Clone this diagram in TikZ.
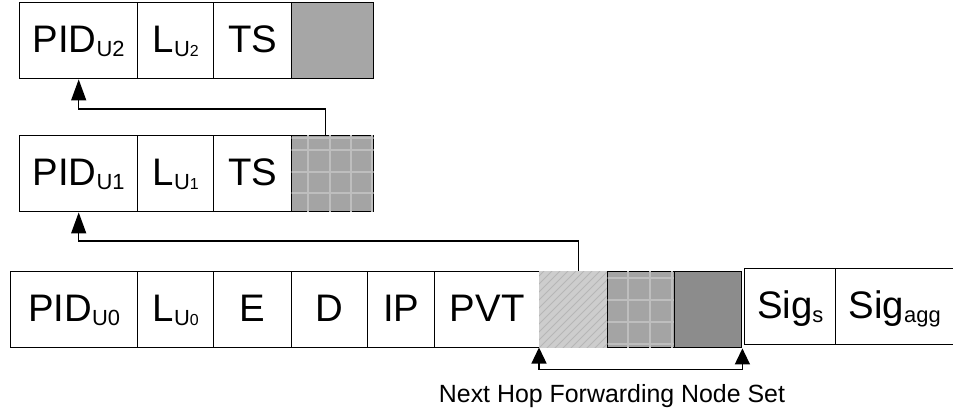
\documentclass[tikz,border=0pt]{standalone}
\usepackage{fontspec}
\setmainfont{Liberation Sans}
\usetikzlibrary{arrows.meta,calc}
\definecolor{solidgray}{HTML}{A6A6A6}
\definecolor{gridgray}{HTML}{A4A4A4}
\definecolor{gridline}{HTML}{BEBEBE}
\definecolor{hatchgray}{HTML}{CDCDCD}
\definecolor{hatchline}{HTML}{B6B6B6}
\definecolor{darkgray}{HTML}{8C8C8C}
\newcommand{\subtxt}[1]{\raisebox{-4bp}{\fontsize{22}{22}\selectfont #1}}
\newcommand{\subsm}[1]{\raisebox{-4bp}{\fontsize{22}{22}\selectfont U{\fontsize{16}{16}\selectfont #1}}}
\begin{document}
\begin{tikzpicture}[x=1bp,y=-1bp,
  cell/.style={draw, line width=1.4bp, minimum height=76bp, inner sep=0pt, anchor=north west,
    text height=28bp, text depth=4bp, font=\fontsize{38.5}{40}\selectfont},
  gridln/.style={draw=gridline, line width=2bp},
  hatchln/.style={draw=hatchline, line width=1bp},
  arr/.style={line width=1.3bp, -{Triangle[length=21bp,width=15bp]}},
  barr/.style={line width=1.3bp, {Triangle[length=16bp,width=15bp]}-{Triangle[length=16bp,width=15bp]}}]
\useasboundingbox (0,0) rectangle (953,410);
% Row 1
\node[cell, minimum width=118bp] (pid2) at (19,2) {PID\subtxt{U2}};
\node[cell, minimum width=76bp] (l2) at (137,2) {L\subsm{2}};
\node[cell, minimum width=78bp] (ts2) at (213,2) {TS};
\node[cell, minimum width=82bp, fill=solidgray] (g1) at (291,2) {};
% Row 2
\node[cell, minimum width=118bp] (pid1) at (19,135) {PID\subtxt{U1}};
\node[cell, minimum width=76bp] (l1) at (137,135) {L\subsm{1}};
\node[cell, minimum width=78bp] (ts1) at (213,135) {TS};
\node[cell, minimum width=82bp, fill=gridgray] (g2) at (291,135) {};
\begin{scope}
  \clip ([xshift=0.7bp,yshift=0.7bp]g2.south west) rectangle ([xshift=-0.7bp,yshift=-0.7bp]g2.north east);
  \foreach \x in {308,330,351,372} \draw[gridln] (\x,130) -- (\x,215);
  \foreach \y in {138,150,172,193} \draw[gridln] (288,\y) -- (376,\y);
\end{scope}
% Row 3
\node[cell, minimum width=127bp] (pid0) at (10,271) {PID\subtxt{U0}};
\node[cell, minimum width=76bp] (l0) at (137,271) {L\subsm{0}};
\node[cell, minimum width=78bp] (e) at (213,271) {E};
\node[cell, minimum width=76bp] (d) at (291,271) {D};
\node[cell, minimum width=67bp] (ip) at (367,271) {IP};
\node[cell, minimum width=105bp] (pvt) at (434,271) {PVT};
\node[cell, draw=hatchgray, line width=0.5bp, minimum width=68bp, fill=hatchgray] (hat) at (539,271) {};
\begin{scope}
  \clip (hat.south west) rectangle (hat.north east);
  \foreach \k in {-90,-82,...,80} \draw[hatchln] (539+\k,350) -- (539+\k+82,268);
\end{scope}
\node[cell, minimum width=67bp, fill=gridgray] (g3) at (607,271) {};
\begin{scope}
  \clip ([xshift=0.7bp,yshift=0.7bp]g3.south west) rectangle ([xshift=-0.7bp,yshift=-0.7bp]g3.north east);
  \foreach \x in {628,650,672} \draw[gridln] (\x,265) -- (\x,350);
  \foreach \y in {278,300,322,344} \draw[gridln] (603,\y) -- (678,\y);
\end{scope}
\node[cell, minimum width=67bp, fill=darkgray] (dk) at (674,271) {};
\node[cell, minimum width=91bp] (sigs) at (744,268) {Sig\raisebox{-4bp}{\fontsize{22}{22}\selectfont s}};
\node[cell, minimum width=130bp] (sigagg) at (835,268) {Sig\raisebox{-4bp}{\fontsize{22}{22}\selectfont agg}\hspace*{12bp}};
% connectors
\draw[arr] ([xshift=-7bp]g2.north) -- ++(0,-26) -| (pid2.south);
\draw[arr] ([xshift=5bp]hat.north) -- ++(0,-30) -| (pid1.south);
\draw[barr] (hat.south west) -- ++(0,22) -| (dk.south east);
\node[anchor=base, inner sep=0pt, font=\fontsize{25}{27}\selectfont] (lbl) at (612,402) {Next Hop Forwarding Node Set};
\end{tikzpicture}
\end{document}
